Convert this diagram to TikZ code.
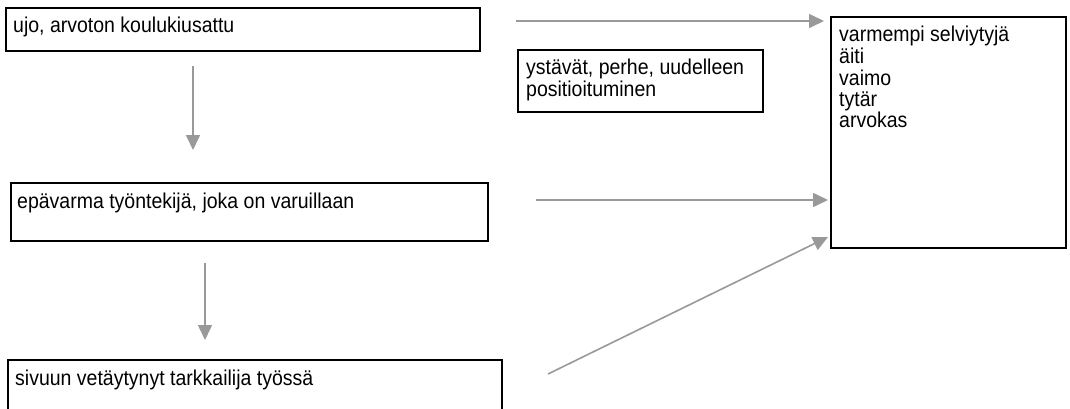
\documentclass[tikz,border=0pt]{standalone}
\usepackage{fontspec}
\usepackage{graphicx}
\setmainfont{Liberation Sans}
\usetikzlibrary{arrows.meta,calc}

% stacked left-aligned rows whose baseline is that of the first row,
% set slightly tall and narrow
\newcommand\textrows[1]{\scalebox{1}[1.1]{\begin{tabular}[t]{@{}l@{}}#1\end{tabular}}}
\newcommand\tallline[1]{\scalebox{1}[1.1]{#1}}

\tikzset{
  box/.style={draw=black, line width=2.4pt, rectangle, inner sep=0pt, anchor=north west},
  boxtext/.style={anchor=base west, inner sep=0pt,
    font=\fontsize{19.5}{18.6}\selectfont},
  link/.style={draw=black!40, line width=1.6pt,
    -{Triangle[length=15pt,width=14pt]}},
}

\begin{document}
\begin{tikzpicture}[x=1pt,y=-1pt]
  \clip (0,0) rectangle (1070,409);
  \fill[white] (0,0) rectangle (1070,409);

  % boxes
  \node[box, minimum width=474pt, minimum height=43pt] (bullied) at (5,7) {};
  \node[box, minimum width=477pt, minimum height=58pt] (worker) at (10,182) {};
  \node[box, minimum width=494pt, minimum height=80pt] (observer) at (7,359) {};
  \node[box, minimum width=245pt, minimum height=62pt] (support) at (517,49) {};
  \node[box, minimum width=235pt, minimum height=231pt] (survivor) at (830,16) {};

  % box texts
  \node[boxtext] (tBullied) at ($(bullied.north west)+(8,26)$) {\tallline{ujo, arvoton koulukiusattu}};
  \node[boxtext] (tWorker) at ($(worker.north west)+(7,26)$) {\tallline{epävarma työntekijä, joka on varuillaan}};
  \node[boxtext] (tObserver) at ($(observer.north west)+(8,26)$) {\tallline{sivuun vetäytynyt tarkkailija työssä}};
  \node[boxtext] (tSupport) at ($(support.north west)+(9,26)$) {\textrows{ystävät, perhe, uudelleen\\positioituminen}};
  \node[boxtext] (tSurvivor) at ($(survivor.north west)+(9,26)$) {\textrows{varmempi selviytyjä\\äiti\\vaimo\\tytär\\arvokas}};

  % free arrow ends
  \coordinate (d1a) at (193,66);
  \coordinate (d1b) at (193,150);
  \coordinate (d2a) at (205,263);
  \coordinate (d2b) at (205,340);
  \coordinate (r1a) at (516,21);
  \coordinate (r1b) at (824,21);
  \coordinate (r2a) at (536,200);
  \coordinate (r2b) at (828,200);
  \coordinate (r3a) at (548,374);
  \coordinate (r3b) at (828,237);

  % connectors
  \draw[link] (d1a) -- (d1b);
  \draw[link] (d2a) -- (d2b);
  \draw[link] (r1a) -- (r1b);
  \draw[link] (r2a) -- (r2b);
  \draw[link] (r3a) -- (r3b);
\end{tikzpicture}
\end{document}
